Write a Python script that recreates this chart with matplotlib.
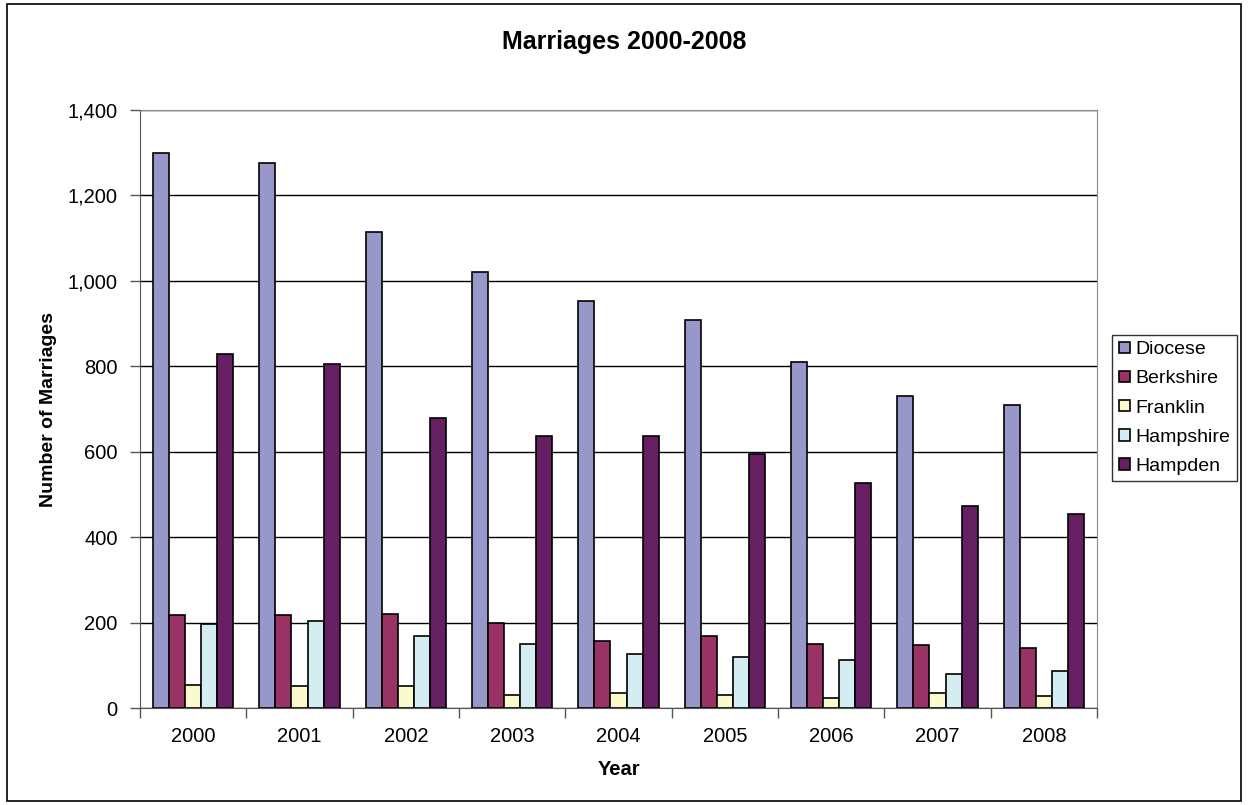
import numpy as np
import matplotlib
matplotlib.use('Agg')
import matplotlib.pyplot as plt
from matplotlib.patches import Rectangle
from matplotlib.ticker import FuncFormatter

plt.rcParams['font.family'] = ['Liberation Sans', 'DejaVu Sans']

years = ['2000', '2001', '2002', '2003', '2004', '2005', '2006', '2007', '2008']
diocese = [1300, 1275, 1114, 1020, 954, 908, 810, 730, 709]
berkshire = [218, 217, 221, 200, 158, 169, 151, 147, 140]
franklin = [55, 51, 51, 31, 35, 31, 24, 35, 27]
hampshire = [197, 204, 169, 151, 126, 119, 112, 80, 87]
hampden = [828, 806, 678, 637, 637, 595, 527, 472, 455]

series = [('Diocese', diocese, '#9797C9'),
          ('Berkshire', berkshire, '#993366'),
          ('Franklin', franklin, '#FAFACC'),
          ('Hampshire', hampshire, '#D3EDF3'),
          ('Hampden', hampden, '#661F63')]

fig = plt.figure(figsize=(12.48, 8.05), dpi=100)
ax = fig.add_axes([140 / 1248, 1 - 708 / 805, 957 / 1248, 598 / 805])

# outer chart border
fig.patches.append(Rectangle((7 / 1248, 4 / 805), 1234 / 1248, 797 / 805,
                             transform=fig.transFigure, fill=False,
                             edgecolor='black', linewidth=1.2))

x = np.arange(len(years))
w = 0.151
for i, (name, vals, col) in enumerate(series):
    ax.bar(x + (i - 2) * w, vals, width=w, color=col, edgecolor='black',
           linewidth=1.2, label=name, zorder=3)

ax.set_xlim(-0.5, len(years) - 0.5)
ax.set_ylim(0, 1400)
ax.set_yticks(range(0, 1401, 200))
ax.yaxis.set_major_formatter(FuncFormatter(lambda v, p: f'{int(v):,}'))
ax.grid(axis='y', color='black', linewidth=1, zorder=0)

ax.set_xticks(x)
ax.set_xticklabels(years)
ax.set_xticks(np.arange(-0.5, len(years)), minor=True)
ax.tick_params(axis='x', which='major', length=0, labelsize=14.5, pad=14)
ax.tick_params(axis='x', which='minor', length=7, width=1, color='#555555')
ax.tick_params(axis='y', length=7, width=1, color='#555555', labelsize=14.5, pad=9)

for s in ['top', 'right']:
    ax.spines[s].set_color('#888888')
for s in ['left', 'bottom']:
    ax.spines[s].set_color('#555555')

ax.set_xlabel('Year', fontsize=14.5, fontweight='bold', labelpad=10)
ax.set_ylabel('Number of Marriages', fontsize=14, fontweight='bold', labelpad=8)
fig.text(0.5, 1 - 42 / 805, 'Marriages 2000-2008', ha='center', va='center',
         fontsize=18, fontweight='bold')

leg = fig.legend(loc='center left', bbox_to_anchor=(1112 / 1248, 1 - 408 / 805),
                 fontsize=14, frameon=True, fancybox=False, edgecolor='black',
                 handlelength=0.55, handleheight=0.55, handletextpad=0.3,
                 borderpad=0.35, labelspacing=0.62, borderaxespad=0)
leg.get_frame().set_linewidth(1)

fig.savefig('out.png', dpi=100)
